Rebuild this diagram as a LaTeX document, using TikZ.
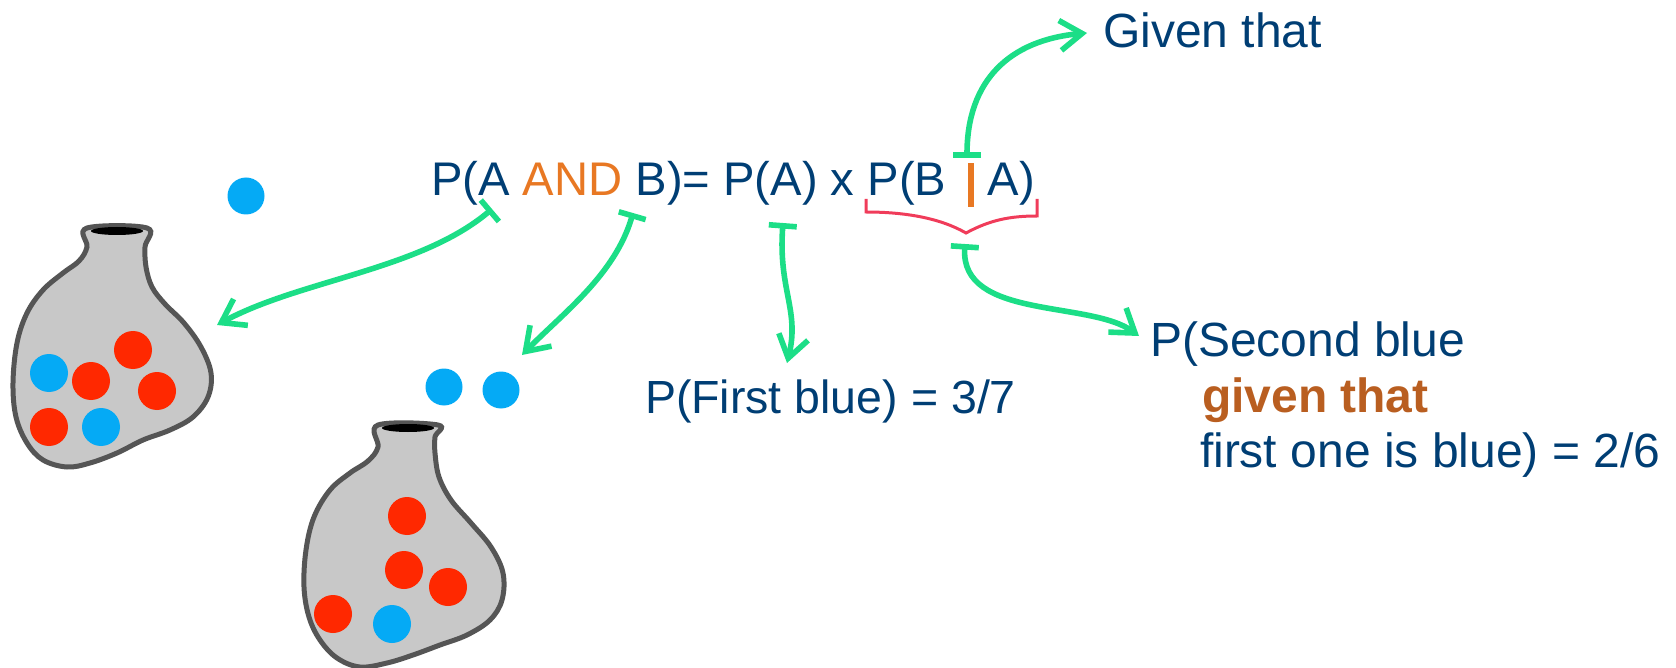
\documentclass[tikz,border=0pt]{standalone}
\usepackage{fontspec}
\setmainfont{Liberation Sans}
\usetikzlibrary{arrows.meta}

\definecolor{navy}{RGB}{0,62,116}
\definecolor{andorange}{RGB}{232,120,35}
\definecolor{givenbrown}{RGB}{185,94,32}
\definecolor{linkgreen}{RGB}{28,222,135}
\definecolor{bracered}{RGB}{240,60,90}
\definecolor{ballred}{RGB}{255,40,0}
\definecolor{ballblue}{RGB}{5,170,245}
\definecolor{bagfill}{RGB}{200,200,200}
\definecolor{bagline}{RGB}{85,85,85}

\newcommand{\bodysize}{\fontsize{24}{28}\selectfont}
\newcommand{\eqsize}{\fontsize{23.6}{28}\selectfont}
\newcommand{\firstsize}{\fontsize{23.25}{27}\selectfont}

\begin{document}
\begin{tikzpicture}[x=0.5pt,y=-0.5pt,
  txt/.style={anchor=base west, inner sep=0pt, outer sep=0pt, text=navy, font=\bodysize},
  link/.style={draw=linkgreen, line width=2.8pt,
    {Bar[width=14pt]}-{Straight Barb[length=11pt,width=15pt]}},
  bag/.style={fill=bagfill, draw=bagline, line width=2.5pt},
  redball/.style={circle, fill=ballred, minimum size=19pt, inner sep=0pt},
  blueball/.style={circle, fill=ballblue, minimum size=19pt, inner sep=0pt},
  looseball/.style={circle, fill=ballblue, minimum size=18.5pt, inner sep=0pt},
  brace/.style={draw=bracered, line width=1.5pt}
]
\useasboundingbox (0,0) rectangle (1676,668);

% first bag (seven balls)
\path[bag] plot[smooth cycle, tension=0.6] coordinates {
  (87,228) (147,228) (145,247) (146,267) (152,287) (165,304) (184,323)
  (201,347) (211,373) (208,397) (193,417) (170,430) (143,440) (117,453)
  (90,463) (67,467) (43,460) (27,443) (16,417) (13,383) (17,343) (27,313)
  (43,290) (63,273) (79,261) (87,247)};
\fill[black] (117,231) ellipse [x radius=26, y radius=4];
\node[redball]  (r11) at (133,350) {};
\node[blueball] (b11) at (49,373) {};
\node[redball]  (r12) at (91,381) {};
\node[redball]  (r13) at (157,391) {};
\node[redball]  (r14) at (49,427) {};
\node[blueball] (b12) at (101,427) {};

% second bag (after two blue draws)
\path[bag] plot[smooth cycle, tension=0.6] coordinates {
  (378,425) (438,425) (435,437) (435,453) (439,477) (451,500) (471,523)
  (491,547) (503,573) (502,600) (490,620) (467,635) (440,645) (413,655)
  (387,663) (360,667) (337,658) (320,640) (309,617) (304,587) (306,550)
  (314,517) (330,490) (350,473) (368,461) (378,447)};
\fill[black] (408,428) ellipse [x radius=26, y radius=4];
\node[redball]  (r21) at (407,516) {};
\node[redball]  (r22) at (404,570) {};
\node[redball]  (r23) at (448,587) {};
\node[redball]  (r24) at (333,614) {};
\node[blueball] (b21) at (392,624) {};

% drawn balls
\node[looseball] (single) at (246,196) {};
\node[looseball] (pairL) at (444,387) {};
\node[looseball] (pairR) at (501,390) {};

% texts
\node[txt, font=\eqsize] (eq) at (431,196) {P(A \textcolor{andorange}{AND} B)= P(A) x P(B\hspace{0.45em}\textcolor{andorange}{\rule[-5.5pt]{3pt}{22pt}}\hspace{0.3em}A)};
\node[txt] (given) at (1103,48) {Given that};
\node[txt, font=\firstsize] (first) at (645,413) {P(First blue) = 3/7};
\node[txt] (sb1) at (1150,357) {P(Second blue};
\node[txt, text=givenbrown, font=\bodysize\bfseries] (sb2) at (1202,412) {given that};
\node[txt] (sb3) at (1200,467) {first one is blue) = 2/6};

% brace under P(B | A)
\coordinate (braceL) at (866,199);
\coordinate (braceTip) at (966,233);
\coordinate (braceR) at (1037,199);
\draw[brace] (braceL) -- ++(0,13) .. controls (905,212) and (940,218) .. (braceTip)
  .. controls (990,220) and (1010,216) .. (1037,216) -- (braceR);

% connector ends
\coordinate (fromA) at (492,209);
\coordinate (toBag) at (217,325);
\coordinate (fromB) at (633,213);
\coordinate (toPair) at (522,355);
\coordinate (fromPA) at (783,223);
\coordinate (toFirst) at (787,363);
\coordinate (fromBrace) at (965,244);
\coordinate (toSecond) at (1139,336);
\coordinate (fromBar) at (967,158);
\coordinate (toGiven) at (1087,33);

% connectors
\draw[link] (fromA) .. controls (420,270) and (300,280) .. (toBag);
\draw[link] (fromB) .. controls (615,275) and (562,314) .. (toPair);
\draw[link] (fromPA) .. controls (778,290) and (800,310) .. (toFirst);
\draw[link] (fromBrace) .. controls (960,320) and (1090,300) .. (toSecond);
\draw[link] (fromBar) .. controls (967,80) and (1010,40) .. (toGiven);
\end{tikzpicture}
\end{document}
